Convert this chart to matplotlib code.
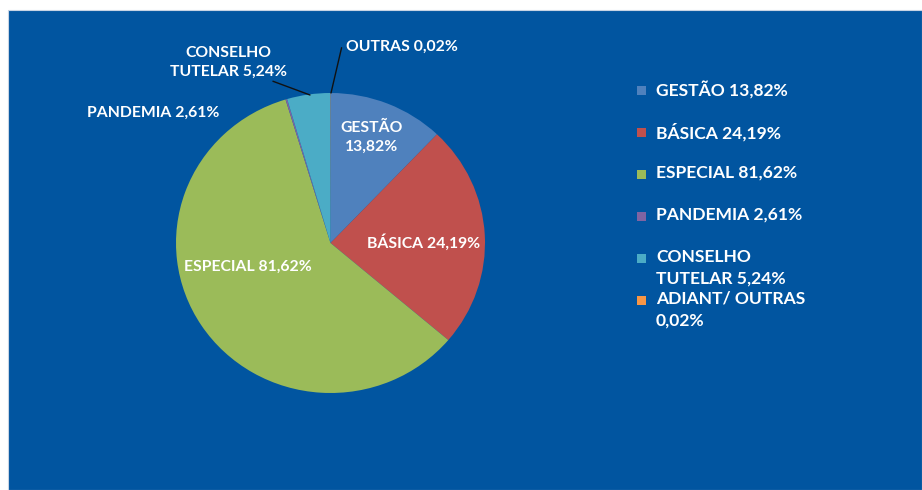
import matplotlib.pyplot as plt
from matplotlib.patches import Rectangle

# slice shares; the labels carry the printed percentages
categorias = ["GESTÃO", "BÁSICA", "ESPECIAL", "PANDEMIA", "CONSELHO TUTELAR", "ADIANT/ OUTRAS"]
fatias = [12.1, 24.1, 59.1, 0.17, 4.5, 0.03]
percentuais = ["13,82%", "24,19%", "81,62%", "2,61%", "5,24%", "0,02%"]
cores = ["#4F81BD", "#C0504D", "#9BBB59", "#8064A2", "#4BACC6", "#F79646"]

rotulos_legenda = [
    "GESTÃO 13,82%",
    "BÁSICA 24,19%",
    "ESPECIAL 81,62%",
    "PANDEMIA 2,61%",
    "CONSELHO\nTUTELAR 5,24%",
    "ADIANT/ OUTRAS\n0,02%",
]

W, H = 922, 490
fundo = "#0155A0"
fonte = "Lato"

fig = plt.figure(figsize=(W / 100, H / 100), dpi=100)
fig.patch.set_facecolor("white")
fig.patches.append(Rectangle((8 / W, 0), 1 - 8 / W, 1 - 10 / H, transform=fig.transFigure,
                             facecolor=fundo, edgecolor="#c8d4e4", lw=0.8, zorder=-10))

# the original pie is slightly squashed vertically
cx, cy, rx, ry = 330.5, 243, 154.5, 150
ax = fig.add_axes([(cx - rx) / W, (H - cy - ry) / H, 2 * rx / W, 2 * ry / H])
ax.pie(fatias, colors=cores, startangle=90, counterclock=False, radius=1,
       wedgeprops=dict(linewidth=0))
ax.set_xlim(-1, 1)
ax.set_ylim(-1, 1)
ax.set_aspect("auto")
ax.axis("off")


def px(x, y):
    return (x - cx) / rx, (cy - y) / ry


estilo = dict(color="white", fontweight="bold", family=fonte, fontsize=11.3,
              ha="center", va="center")

ax.text(*px(372, 137), f"{categorias[0]}\n{percentuais[0]}", linespacing=1.45, **estilo)
ax.text(*px(424, 242), f"{categorias[1]} {percentuais[1]}", **estilo)
ax.text(*px(248, 267), f"{categorias[2]} {percentuais[2]}", **estilo)
ax.text(*px(153, 113), f"{categorias[3]} {percentuais[3]}", **estilo)
ax.annotate("CONSELHO\nTUTELAR " + percentuais[4], xy=px(310, 95), xytext=px(228, 62),
            arrowprops=dict(arrowstyle="-", color="#111111", lw=1,
                            shrinkA=0, shrinkB=0, relpos=(0.82, 0.0)),
            linespacing=1.45, **estilo)
ax.annotate("OUTRAS " + percentuais[5], xy=px(331, 93), xytext=px(402, 47),
            arrowprops=dict(arrowstyle="-", color="#111111", lw=1,
                            shrinkA=0, shrinkB=0, relpos=(-0.04, 0.45)),
            **estilo)

# legend drawn by hand to keep the uneven row spacing of the original
linhas_y = [90, 132, 174, 216, 258, 300]
for cor, rot, y in zip(cores, rotulos_legenda, linhas_y):
    fig.patches.append(Rectangle((637 / W, (H - y - 5) / H), 9 / W, 9 / H,
                                 transform=fig.transFigure, facecolor=cor,
                                 edgecolor="none", zorder=3))
    fig.text(656 / W, (H - y + 9) / H, rot, color="white", fontweight="bold",
             family=fonte, fontsize=12.6, ha="left", va="top", linespacing=1.45)

fig.savefig("out.png", dpi=100, facecolor=fig.get_facecolor())
